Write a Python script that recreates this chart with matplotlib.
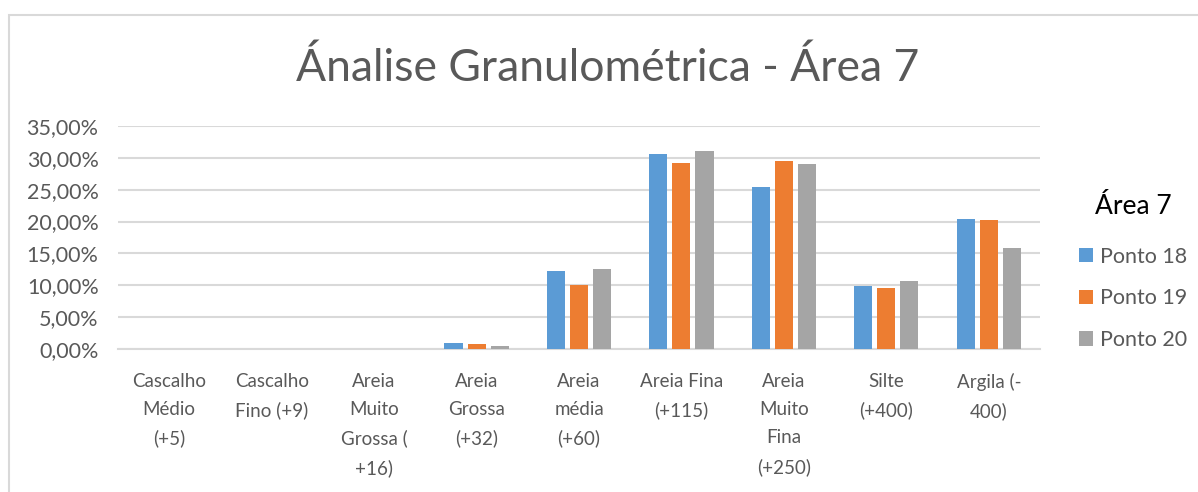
import numpy as np
import matplotlib.pyplot as plt
from matplotlib.patches import Rectangle
from matplotlib.ticker import FuncFormatter

plt.rcParams['font.family'] = ['Lato', 'DejaVu Sans']

categorias = ['Cascalho\nMédio\n(+5)', 'Cascalho\nFino (+9)', 'Areia\nMuito\nGrossa (\n+16)',
              'Areia\nGrossa\n(+32)', 'Areia\nmédia\n(+60)', 'Areia Fina\n(+115)',
              'Areia\nMuito\nFina\n(+250)', 'Silte\n(+400)', 'Argila (-\n400)']
ponto18 = [0.0, 0.0, 0.0, 0.010, 0.123, 0.306, 0.254, 0.099, 0.204]
ponto19 = [0.0, 0.0, 0.0, 0.0085, 0.101, 0.292, 0.295, 0.096, 0.203]
ponto20 = [0.0, 0.0, 0.0, 0.005, 0.125, 0.311, 0.290, 0.106, 0.159]
series = ['Ponto 18', 'Ponto 19', 'Ponto 20']
cores = ['#5b9bd5', '#ed7d31', '#a5a5a5']

fig = plt.figure(figsize=(11.98, 4.92), dpi=100)
# chart frame
fig.patches.append(Rectangle((9 / 1198, -0.1), 1.2, (492 - 15) / 492 + 0.1,
                             transform=fig.transFigure, fill=False,
                             edgecolor='#d9d9d9', linewidth=1.5))

ax = fig.add_axes([118 / 1198, (492 - 349) / 492, (1040 - 118) / 1198, (349 - 126) / 492])

x = np.arange(len(categorias))
w = 0.176
step = 0.225
for i, (vals, nome, cor) in enumerate(zip([ponto18, ponto19, ponto20], series, cores)):
    ax.bar(x + (i - 1) * step, vals, width=w, color=cor, label=nome, zorder=3)

ax.set_xlim(-0.5, len(categorias) - 0.5)
ax.set_ylim(0, 0.35)
ax.set_yticks(np.arange(0, 0.351, 0.05))
ax.yaxis.set_major_formatter(FuncFormatter(lambda v, p: f'{v * 100:.2f}%'.replace('.', ',')))
ax.set_xticks(x)
ax.set_xticklabels(categorias, linespacing=1.8)
ax.tick_params(axis='both', length=0, colors='#595959')
ax.tick_params(axis='x', pad=17, labelsize=13.5)
ax.tick_params(axis='y', pad=14, labelsize=15.5)
ax.grid(axis='y', color='#d9d9d9', linewidth=1.5, zorder=0)
for s in ['top', 'right', 'left']:
    ax.spines[s].set_visible(False)
ax.spines['bottom'].set_color('#d9d9d9')
ax.spines['bottom'].set_linewidth(1.5)

fig.text(608 / 1198, 1 - 68 / 492, 'Ánalise Granulométrica - Área 7', ha='center', va='center',
         fontsize=32, color='#595959')

leg = fig.legend(loc='center left', bbox_to_anchor=(1060 / 1198, 1 - 272 / 492), frameon=False,
                 title='Área 7', fontsize=15.5, title_fontsize=19, handlelength=0.65,
                 handleheight=0.65, handletextpad=0.3, labelspacing=1.0)
for t in leg.get_texts():
    t.set_color('#595959')
leg.get_title().set_color('black')
leg._legend_box.sep = 20

fig.savefig('out.png', dpi=100)
